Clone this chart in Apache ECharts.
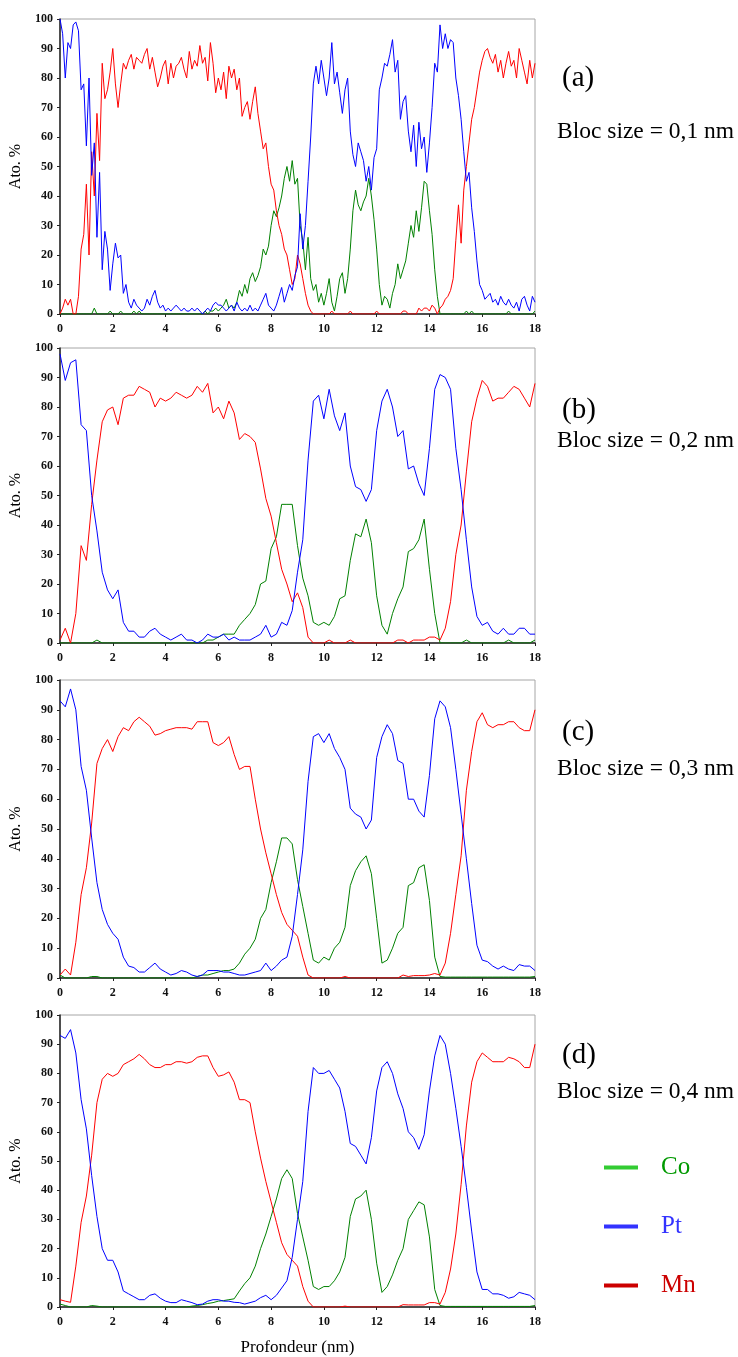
<!DOCTYPE html>
<html>
<head>
<meta charset="utf-8">
<script src="https://cdn.jsdelivr.net/npm/echarts@6/dist/echarts.min.js"></script>
<style>
  html, body { margin: 0; background: #fff; }
  #chart { width: 738px; height: 1357px; }
</style>
</head>
<body>
<div id="chart"></div>
<script>
// depth step (nm) of the sampled profiles
const stepA = 0.1;
const stepBCD = 0.2;

// (a) bloc size 0,1 nm - one value every 0.1 nm, 0 -> 18 nm
const ptA = [
  100, 95, 80, 92, 90, 98, 99, 96, 76, 78,
  57, 80, 47, 58, 26, 48, 15, 28, 22, 8,
  17, 24, 19, 20, 7, 10, 4, 2, 5, 3,
  2, 1, 2, 5, 3, 6, 8, 4, 2, 3,
  1, 2, 1, 2, 3, 2, 1, 2, 1, 1,
  2, 1, 2, 1, 0, 1, 2, 1, 3, 4,
  3, 3, 2, 1, 2, 3, 1, 4, 2, 1,
  2, 1, 3, 1, 2, 1, 3, 5, 7, 3,
  2, 1, 3, 6, 9, 4, 7, 10, 8, 13,
  16, 34, 22, 30, 45, 60, 78, 84, 78, 86,
  80, 74, 80, 92, 78, 82, 75, 68, 76, 80,
  62, 54, 50, 58, 55, 52, 45, 50, 42, 53,
  56, 76, 80, 85, 84, 88, 93, 82, 86, 66,
  72, 74, 62, 55, 64, 50, 65, 56, 60, 48,
  58, 70, 85, 82, 98, 90, 95, 90, 93, 92,
  80, 74, 66, 55, 45, 48, 36, 28, 18, 10,
  8, 5, 6, 7, 4, 5, 3, 6, 4, 3,
  5, 3, 2, 4, 1, 5, 6, 3, 1, 6,
  4
];
const mnA = [
  0, 2, 5, 3, 5, 0, 0, 6, 22, 27,
  44, 20, 55, 40, 68, 52, 85, 73, 76, 82,
  90, 78, 70, 78, 85, 83, 86, 88, 83, 87,
  86, 85, 88, 90, 83, 87, 82, 77, 80, 84,
  86, 78, 85, 80, 84, 85, 87, 83, 80, 89,
  83, 86, 84, 91, 85, 87, 79, 92, 85, 75,
  80, 76, 82, 73, 84, 80, 83, 76, 80, 67,
  70, 72, 66, 72, 77, 68, 62, 56, 58, 50,
  44, 42, 35, 30, 27, 22, 20, 15, 10, 12,
  20, 17, 12, 7, 3, 1, 0, 0, 0, 0,
  0, 0, 0, 1, 0, 0, 0, 0, 0, 0,
  1, 0, 0, 0, 0, 0, 0, 0, 0, 0,
  1, 0, 0, 0, 0, 0, 0, 0, 0, 0,
  1, 1, 0, 0, 0, 0, 2, 1, 2, 2,
  1, 3, 2, 0, 2, 3, 5, 6, 8, 12,
  25, 37, 24, 42, 50, 58, 66, 70, 76, 82,
  86, 89, 90, 87, 85, 88, 82, 86, 80, 85,
  89, 84, 86, 80, 90, 86, 82, 78, 86, 80,
  85
];
const coA = [
  0, 0, 0, 0, 0, 0, 0, 0, 0, 0,
  0, 0, 0, 2, 0, 0, 0, 0, 0, 1,
  0, 0, 0, 1, 0, 0, 0, 0, 1, 0,
  1, 0, 0, 0, 0, 0, 0, 0, 0, 0,
  0, 0, 0, 0, 0, 0, 0, 0, 0, 0,
  0, 0, 0, 0, 0, 1, 0, 1, 1, 2,
  1, 2, 3, 5, 2, 3, 2, 4, 8, 6,
  10, 7, 12, 14, 11, 13, 16, 22, 20, 23,
  30, 35, 33, 36, 40, 46, 50, 45, 52, 44,
  46, 30, 25, 15, 26, 12, 8, 10, 4, 7,
  3, 7, 12, 4, 1, 6, 12, 14, 7, 12,
  22, 35, 42, 37, 35, 38, 40, 46, 40, 32,
  22, 10, 3, 6, 5, 2, 7, 10, 17, 12,
  15, 18, 24, 30, 26, 35, 28, 36, 45, 44,
  35, 27, 15, 6, 0, 0, 0, 0, 0, 0,
  0, 0, 0, 0, 1, 0, 1, 0, 0, 0,
  0, 0, 0, 0, 0, 0, 0, 0, 0, 0,
  1, 0, 0, 0, 0, 0, 0, 0, 0, 0,
  1
];

// (b) bloc size 0,2 nm - one value every 0.2 nm
const ptB = [
  98, 89, 95, 96, 74, 72, 50, 38, 24, 18,
  15, 18, 7, 4, 4, 2, 2, 4, 5, 3,
  2, 1, 2, 3, 1, 1, 0, 1, 3, 2,
  2, 3, 1, 2, 1, 1, 1, 2, 3, 6,
  2, 3, 7, 6, 11, 24, 35, 62, 82, 84,
  76, 86, 77, 72, 78, 60, 53, 52, 48, 52,
  72, 82, 86, 80, 70, 72, 59, 60, 54, 50,
  66, 86, 91, 90, 86, 66, 52, 35, 19, 9,
  6, 7, 4, 3, 5, 3, 3, 5, 5, 3,
  3
];
const mnB = [
  1, 5, 0, 10, 33, 28, 47, 62, 75, 79,
  80, 74, 83, 84, 84, 87, 86, 85, 80, 83,
  82, 83, 85, 84, 83, 84, 87, 85, 88, 78,
  80, 76, 82, 78, 69, 71, 70, 68, 59, 49,
  43, 34, 25, 20, 14, 17, 12, 2, 0, 0,
  0, 1, 0, 0, 0, 1, 0, 0, 0, 0,
  0, 0, 0, 0, 1, 1, 0, 1, 1, 1,
  2, 2, 1, 5, 14, 30, 40, 58, 75, 83,
  89, 87, 82, 83, 83, 85, 87, 86, 83, 80,
  88
];
const coB = [
  0, 0, 0, 0, 0, 0, 0, 1, 0, 0,
  0, 0, 0, 0, 0, 0, 0, 0, 0, 0,
  0, 0, 0, 0, 0, 0, 0, 0, 1, 1,
  2, 3, 3, 3, 6, 8, 10, 13, 20, 21,
  32, 36, 47, 47, 47, 33, 22, 16, 7, 6,
  7, 6, 9, 15, 16, 28, 37, 36, 42, 34,
  16, 6, 3, 10, 15, 19, 31, 32, 35, 42,
  25, 10, 0, 0, 0, 0, 0, 1, 0, 0,
  0, 0, 0, 0, 0, 1, 0, 0, 0, 0,
  1
];

// (c) bloc size 0,3 nm
const ptC = [
  93, 91, 97, 90, 71, 63, 47, 32, 23, 18,
  15, 13, 7, 4, 3.5, 2, 2, 3.5, 5, 3,
  2, 1, 1.5, 2.5, 2, 1, 0.5, 1, 2.5, 2.5,
  2.5, 2, 2, 1.5, 1, 1, 1.5, 2, 2.5, 5,
  2.5, 4, 6, 7, 14, 28, 43, 66, 81, 82,
  79, 82, 77, 74, 70, 57, 55, 54, 50, 53,
  74, 81, 85, 82, 73, 72, 60, 60, 56, 54,
  68, 87, 93, 91, 84, 70, 55, 40, 25, 11,
  6, 5.5, 4, 3, 4, 3, 2.5, 4.5, 4, 4,
  2.5
];
const mnC = [
  1, 3, 1, 12, 28, 37, 52, 72, 77, 80,
  76, 81, 84, 83, 86, 87.5, 86, 84.5, 81.5, 82,
  83, 83.5, 84, 84, 84, 83.5, 86, 86, 86, 79,
  78, 79, 81, 75, 70, 71, 71, 60, 50, 42,
  35, 28, 22, 18, 16, 14, 7, 1, 0, 0,
  0, 0, 0, 0, 0.5, 0, 0, 0, 0, 0,
  0, 0, 0, 0, 0, 1, 0.5, 0.8, 0.8, 0.8,
  1, 1.5, 1, 5, 15, 28, 41, 63, 76, 86,
  89, 85, 84, 85, 85, 86, 86, 84, 83, 83,
  90
];
const coC = [
  1, 0, 0, 0, 0, 0, 0.5, 0.5, 0, 0,
  0, 0, 0, 0, 0, 0, 0, 0, 0, 0,
  0, 0, 0, 0, 0, 0, 0.5, 1, 1, 1.5,
  2, 2.5, 2.5, 3, 5, 8, 10, 13, 20, 23,
  32, 39, 47, 47, 45, 33, 24, 15, 6, 5,
  7, 6, 10, 12, 17, 31, 36, 39, 41, 35,
  20, 5, 6, 10, 15, 17, 31, 32, 37, 38,
  26, 7, 0.5, 0.3, 0.3, 0.3, 0.3, 0.3, 0.3, 0.3,
  0.3, 0.3, 0.3, 0.3, 0.3, 0.3, 0.3, 0.3, 0.3, 0.3,
  0.5
];

// (d) bloc size 0,4 nm
const ptD = [
  93, 92, 95, 87, 71, 61, 45, 31, 20, 16,
  16, 12, 5.5, 4.5, 3.5, 2.5, 2.5, 4, 4.5, 3,
  2, 1.5, 1.5, 2.5, 2, 1.5, 0.8, 1, 2, 2.5,
  2.5, 2, 2, 1.6, 1.5, 1, 1.5, 2, 3.2, 4,
  2.5, 4, 6.5, 9, 17, 30, 43, 67, 82, 80,
  80, 81, 78, 75, 67, 56, 55, 52, 49, 58,
  74, 82, 84, 80, 73, 68, 60, 58, 54, 59,
  74, 86, 93, 90, 80, 68, 55, 41, 26, 12,
  6, 6, 4.5, 4.5, 4, 3, 3.5, 5, 4.5, 4,
  2.5
];
const mnD = [
  2.5, 2, 1.6, 14, 29, 38, 52, 70, 78, 80,
  79, 80, 83, 84, 85, 86.5, 85, 83, 82, 82,
  83, 83, 84, 84, 83.5, 84, 85.5, 86, 86, 82,
  79, 79.5, 80.5, 77, 71, 71, 70, 60, 51, 43,
  36, 29, 22, 18, 16, 14, 7, 2, 0, 0,
  0, 0, 0, 0, 0.3, 0, 0, 0, 0, 0,
  0, 0, 0, 0, 0, 0.8, 0.7, 0.7, 0.7, 0.7,
  1.5, 1.5, 1, 5, 13, 25, 42, 62, 77, 84,
  87, 85.5, 84, 84, 84, 85.5, 85, 84, 82, 82,
  90
];
const coD = [
  1, 0.5, 0, 0, 0, 0, 0.5, 0.3, 0, 0,
  0, 0, 0, 0, 0, 0, 0, 0, 0, 0,
  0, 0, 0, 0, 0, 0.3, 0.5, 0.8, 1.2, 1.5,
  2, 2.2, 2.5, 2.8, 5.5, 8, 10, 14, 20, 25,
  31, 37, 44, 47, 44, 32, 24, 16, 7, 6,
  7, 7, 9, 12, 17, 31, 37, 38, 40, 30,
  15, 5, 7, 11, 16, 20, 30, 33, 36, 35,
  24, 6, 0.5, 0.2, 0.2, 0.2, 0.2, 0.2, 0.2, 0.2,
  0.2, 0.2, 0.2, 0.2, 0.2, 0.2, 0.2, 0.2, 0.2, 0.2,
  0.5
];

const panelLabels = ['(a)', '(b)', '(c)', '(d)'];
const blocLabels = ['Bloc size = 0,1 nm', 'Bloc size = 0,2 nm', 'Bloc size = 0,3 nm', 'Bloc size = 0,4 nm'];
const elements = ['Co', 'Pt', 'Mn'];
const lineColors = { Co: '#008000', Pt: '#0000ff', Mn: '#ff0000' };

const panels = [
  { step: stepA, Co: coA, Pt: ptA, Mn: mnA },
  { step: stepBCD, Co: coB, Pt: ptB, Mn: mnB },
  { step: stepBCD, Co: coC, Pt: ptC, Mn: mnC },
  { step: stepBCD, Co: coD, Pt: ptD, Mn: mnD }
];

// pixel layout of the four plots
const plotTops = [19, 348, 680, 1015];
const plotHeights = [295, 295, 298, 295];
const labelY = [[78, 132], [410, 441], [732, 769], [1055, 1092]];

const serif = '"Liberation Serif", "Times New Roman", serif';

function pairs(vals, step) {
  return vals.map((v, i) => [+(i * step).toFixed(1), v]);
}

const chart = echarts.init(document.getElementById('chart'), null, { renderer: 'canvas' });

const grid = [], xAxis = [], yAxis = [], series = [], graphic = [];

panels.forEach((p, k) => {
  grid.push({
    left: 60, top: plotTops[k], width: 475, height: plotHeights[k],
    show: true, borderColor: '#a6a6a6', borderWidth: 1, backgroundColor: 'transparent'
  });
  xAxis.push({
    gridIndex: k, type: 'value', min: 0, max: 18, interval: 2,
    name: k === 3 ? 'Profondeur (nm)' : '',
    nameLocation: 'middle', nameGap: 32,
    nameTextStyle: { fontFamily: serif, fontSize: 17, color: '#000' },
    axisLine: { lineStyle: { color: '#222', width: 1.5 } },
    axisTick: { show: true, length: 3, lineStyle: { color: '#222' } },
    axisLabel: { fontFamily: serif, fontWeight: 'bold', fontSize: 12, color: '#111', margin: 9 },
    splitLine: { show: false }
  });
  yAxis.push({
    gridIndex: k, type: 'value', min: 0, max: 100, interval: 10,
    name: 'Ato. %', nameLocation: 'middle', nameGap: 33, nameRotate: 90,
    nameTextStyle: { fontFamily: serif, fontSize: 16, color: '#000' },
    axisLine: { show: true, lineStyle: { color: '#222', width: 1.5 } },
    axisTick: { show: true, length: 3, lineStyle: { color: '#222' } },
    axisLabel: { fontFamily: serif, fontWeight: 'bold', fontSize: 12, color: '#111', margin: 7 },
    splitLine: { show: false }
  });
  elements.forEach(el => {
    series.push({
      name: el, type: 'line', xAxisIndex: k, yAxisIndex: k,
      data: pairs(p[el], p.step),
      showSymbol: false, symbol: 'none',
      lineStyle: { color: lineColors[el], width: 1 },
      itemStyle: { color: lineColors[el] },
      z: el === 'Pt' ? 3 : 2
    });
  });
  graphic.push({
    type: 'text', x: 562, y: labelY[k][0],
    style: { text: panelLabels[k], font: '29px ' + serif, fill: '#000', verticalAlign: 'middle' }
  });
  graphic.push({
    type: 'text', x: 557, y: labelY[k][1],
    style: { text: blocLabels[k], font: '23.5px ' + serif, fill: '#000', verticalAlign: 'middle' }
  });
});

chart.setOption({
  animation: false,
  backgroundColor: '#fff',
  grid: grid,
  xAxis: xAxis,
  yAxis: yAxis,
  series: series,
  legend: {
    orient: 'vertical', left: 604, top: 1155, padding: 0,
    icon: 'rect', itemWidth: 34, itemHeight: 4, itemGap: 34,
    selectedMode: false,
    textStyle: { fontFamily: serif, fontSize: 25, padding: [0, 0, 0, 18] },
    data: [
      { name: 'Co', itemStyle: { color: '#33cc33' }, textStyle: { color: '#009900' } },
      { name: 'Pt', itemStyle: { color: '#3333ff' }, textStyle: { color: '#3333ff' } },
      { name: 'Mn', itemStyle: { color: '#cc0000' }, textStyle: { color: '#cc0000' } }
    ]
  },
  graphic: graphic
});
</script>
</body>
</html>
